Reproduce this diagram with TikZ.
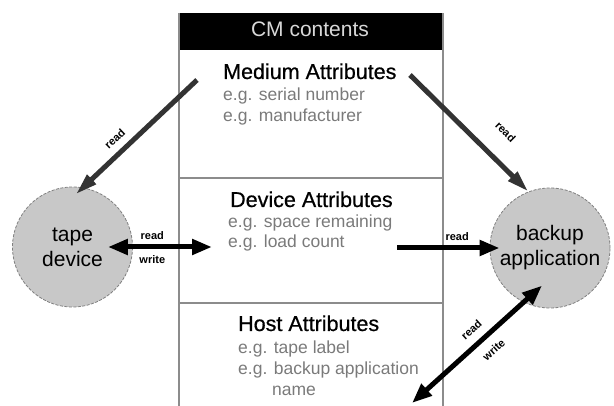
\documentclass[tikz,border=0pt]{standalone}
\usepackage{fontspec}
\setmainfont{Liberation Sans}
\newfontfamily\heavyfont[FakeBold=0.6]{Liberation Sans}
\usetikzlibrary{arrows.meta}
\definecolor{rulegray}{HTML}{8C8C8C}
\definecolor{subgray}{HTML}{7A7A7A}
\definecolor{discfill}{HTML}{C8C8C8}
\definecolor{arrowdark}{HTML}{333333}
\definecolor{headtext}{HTML}{D8D8D8}

\begin{document}
\begin{tikzpicture}[x=1pt,y=-1pt,
  rule/.style={draw=rulegray, line width=1.4pt},
  title/.style={anchor=base west, inner sep=0pt, font=\heavyfont\fontsize{21.5}{25}\selectfont},
  sub/.style={anchor=base west, inner sep=0pt, text=subgray, font=\fontsize{17.5}{21}\selectfont},
  disc/.style={circle, fill=discfill, draw=gray, dash pattern=on 3pt off 1.5pt,
    line width=0.8pt, minimum size=120pt, inner sep=0pt, align=center,
    font=\fontsize{21}{25}\selectfont},
  tag/.style={inner sep=1pt, font=\bfseries\fontsize{11}{12}\selectfont},
  readflow/.style={draw=arrowdark, line width=5pt, -{Triangle[length=22pt,width=12pt]}},
  dataflow/.style={draw=black, line width=5pt, -{Triangle[length=20pt,width=15pt]}},
  bothflow/.style={draw=black, line width=5pt, {Triangle[length=20pt,width=15pt]}-{Triangle[length=20pt,width=15pt]}},
]
\useasboundingbox (0,0) rectangle (614,406);

% contents table
\fill[black] (179,13) rectangle (443,50);
\draw[rule] (179,13) -- (179,406);
\draw[rule] (443,13) -- (443,406);
\draw[rule] (179,178) -- (443,178);
\draw[rule] (179,303) -- (443,303);
\node[anchor=base, inner sep=0pt, text=headtext, font=\fontsize{21}{25}\selectfont] (cmhead) at (310,37) {CM contents};

\node[title] (medium) at (223,79) {Medium Attributes};
\node[sub] (medium1) at (223,101) {e.g. serial number};
\node[sub] (medium2) at (223,122) {e.g. manufacturer};
\node[title] (device) at (230,207) {Device Attributes};
\node[sub] (device1) at (228,228) {e.g. space remaining};
\node[sub] (device2) at (228,248) {e.g. load count};
\node[title] (host) at (238,331) {Host Attributes};
\node[sub] (host1) at (238,354) {e.g. tape label};
\node[sub] (host2) at (238,375) {e.g. backup application};
\node[sub] (host3) at (272,396) {name};

% the two parties
\node[disc] (tape) at (72.5,247) {tape\\device};
\node[disc] (backup) at (550,248) {backup\\application};

% connector ends inside the table
\coordinate (m1) at (197,80);
\coordinate (m2) at (410,75);
\coordinate (dv) at (212,247);
\coordinate (dr) at (397,248);
\coordinate (hb) at (412,403);

% data flows
\draw[readflow, shorten >=-10pt] (m1) -- node[tag, sloped, pos=0.64, above=6pt] (rd1) {read} (tape.80);
\draw[readflow] (m2) -- node[tag, sloped, pos=0.65, above=19pt] (rd2) {read} (backup.111);
\draw[bothflow, shorten <=-25pt] (tape.east) --
  node[tag, pos=0.245, above=4pt] (rd3) {read}
  node[tag, pos=0.245, below=5pt] (wr3) {write} (dv);
\draw[dataflow, shorten >=-10pt] (dr) -- node[tag, pos=0.65, above=4pt] (rd4) {read} (backup.west);
\draw[bothflow, shorten >=-25pt] (hb) --
  node[tag, sloped, pos=0.62, above=7pt] (rd5) {read}
  node[tag, sloped, pos=0.64, below=8pt] (wr5) {write} (backup.244);
\end{tikzpicture}
\end{document}
